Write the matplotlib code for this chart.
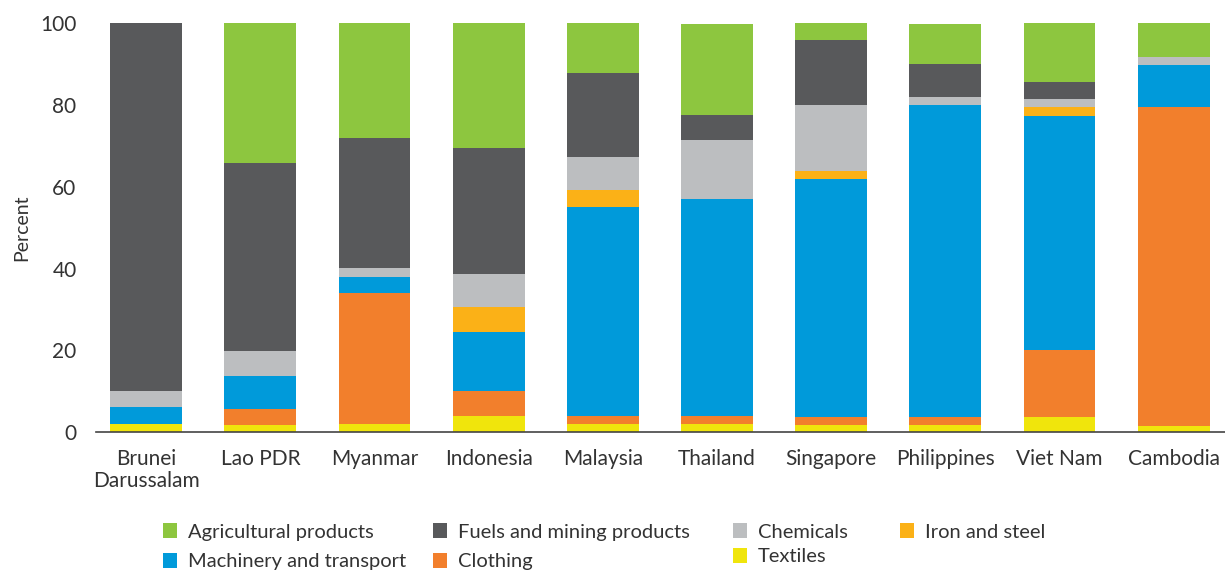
import matplotlib
matplotlib.use("Agg")
import matplotlib.pyplot as plt
import numpy as np

plt.rcParams['font.family'] = ['Lato', 'DejaVu Sans']

countries = ["Brunei\nDarussalam", "Lao PDR", "Myanmar", "Indonesia", "Malaysia",
             "Thailand", "Singapore", "Philippines", "Viet Nam", "Cambodia"]

textiles      = [2.0, 1.8, 2.0, 4.0, 2.0, 2.0, 1.8, 1.8, 3.7, 1.5]
clothing      = [0.0, 3.9, 32.0, 6.1, 2.0, 2.0, 1.9, 1.9, 16.4, 78.0]
machinery     = [4.1, 8.1, 4.0, 14.4, 51.0, 53.0, 58.2, 76.3, 57.2, 10.2]
iron_steel    = [0.0, 0.0, 0.0, 6.1, 4.2, 0.0, 2.0, 0.0, 2.2, 0.0]
chemicals     = [3.9, 6.1, 2.2, 8.1, 8.1, 14.4, 16.1, 1.9, 1.9, 2.0]
fuels         = [90.0, 45.9, 31.8, 30.8, 20.5, 6.1, 15.9, 8.1, 4.2, 0.0]
agricultural  = [0.0, 34.2, 28.0, 30.5, 12.2, 22.3, 4.1, 9.8, 14.4, 8.3]

series = [
    ("Textiles", textiles, "#F0E50C"),
    ("Clothing", clothing, "#F27F2C"),
    ("Machinery and transport", machinery, "#009ADA"),
    ("Iron and steel", iron_steel, "#FBB117"),
    ("Chemicals", chemicals, "#BCBEC0"),
    ("Fuels and mining products", fuels, "#58595B"),
    ("Agricultural products", agricultural, "#8DC63F"),
]

W, H = 1225, 573
fig = plt.figure(figsize=(W / 100, H / 100), dpi=100)
left, right = 96 / W, 1225 / W
bottom, top = 1 - 432.3 / H, 1 - 23 / H
ax = fig.add_axes([left, bottom, right - left, top - bottom])

x = np.arange(len(countries))
base = np.zeros(len(countries))
handles = {}
for name, vals, col in series:
    v = np.array(vals)
    b = ax.bar(x, v, bottom=base, width=0.63, color=col, label=name, linewidth=0)
    handles[name] = b
    base = base + v

ax.set_xlim(-0.44, 9.45)
ax.set_ylim(0, 100)
ax.set_yticks([0, 20, 40, 60, 80, 100])
ax.set_xticks(x)
ax.set_xticklabels(countries)
txtcol = "#333333"
ax.tick_params(axis='both', length=0, labelsize=15, colors=txtcol)
ax.tick_params(axis='y', pad=14)
ax.tick_params(axis='x', pad=12)
for lbl in ax.get_xticklabels():
    lbl.set_linespacing(1.15)
for s in ['top', 'right', 'left']:
    ax.spines[s].set_visible(False)
ax.spines['bottom'].set_color("#444444")
ax.spines['bottom'].set_linewidth(1.2)
ax.set_ylabel("Percent", fontsize=14, color=txtcol)
ax.yaxis.set_label_coords(-0.058, 0.5)

cols = [
    (163, ["Agricultural products", "Machinery and transport"], 0.6),
    (433, ["Fuels and mining products", "Clothing"], 0.6),
    (733, ["Chemicals", "Textiles"], 0.35),
    (900, ["Iron and steel"], 0.6),
]
for xpx, names, ls in cols:
    leg = fig.legend([handles[n] for n in names], names,
                     loc='upper left', bbox_to_anchor=(xpx / W, 1 - 523 / H),
                     frameon=False, fontsize=14.5, handlelength=0.7, handleheight=0.8,
                     handletextpad=0.55, labelspacing=ls, borderpad=0, borderaxespad=0,
                     labelcolor=txtcol)

fig.savefig("out.png", dpi=100)
